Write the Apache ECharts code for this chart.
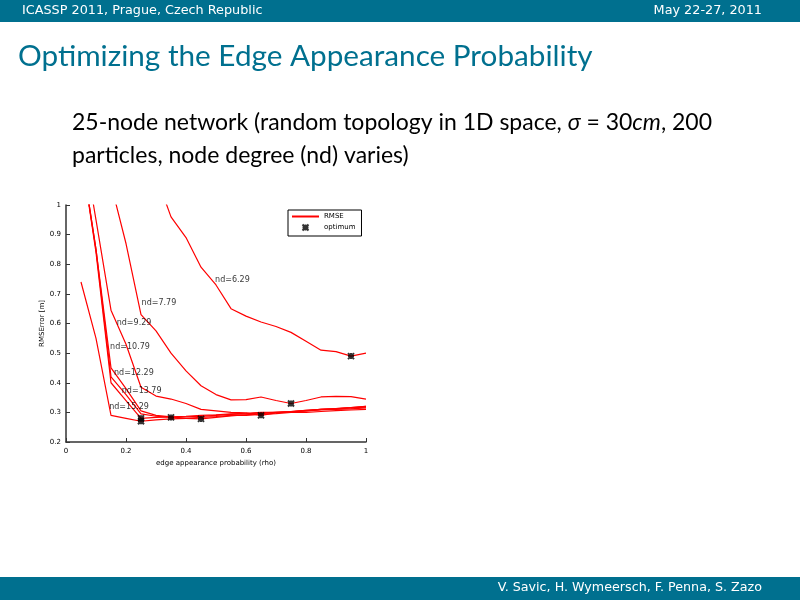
<!DOCTYPE html>
<html>
<head>
<meta charset="utf-8">
<title>Optimizing the Edge Appearance Probability</title>
<script src="https://cdn.jsdelivr.net/npm/echarts@6/dist/echarts.min.js"></script>
<style>html,body{margin:0;padding:0;background:#fff;}</style>
</head>
<body>
<div id="main" style="width:800px;height:600px;"></div>
<script type="text/javascript">
// edge appearance probability (x) shared by all curves
var rho = [0.05, 0.1, 0.15, 0.2, 0.25, 0.3, 0.35, 0.4, 0.45, 0.5,
           0.55, 0.6, 0.65, 0.7, 0.75, 0.8, 0.85, 0.9, 0.95, 1.0];

// RMSE per node degree (null = not read / above plot)
var nd629  = [null, null, null, null, null, 1.10, 0.96, 0.89, 0.79, 0.73,
              0.65, 0.625, 0.605, 0.59, 0.57, 0.54, 0.51, 0.505, 0.49, 0.50];
var nd779  = [null, null, 1.07, 0.87, 0.63, 0.575, 0.50, 0.44, 0.39, 0.36,
              0.342, 0.343, 0.352, 0.34, 0.33, 0.34, 0.352, 0.354, 0.353, 0.345];
var nd929  = [1.25, 0.95, 0.645, 0.53, 0.385, 0.355, 0.345, 0.33, 0.31, 0.305,
              0.30, 0.298, 0.29, 0.298, 0.303, 0.307, 0.31, 0.313, 0.316, 0.32];
var nd1079 = [1.18, 0.85, 0.45, 0.38, 0.305, 0.29, 0.285, 0.28, 0.278, 0.283,
              0.288, 0.292, 0.296, 0.30, 0.303, 0.307, 0.31, 0.313, 0.316, 0.32];
var nd1229 = [1.18, 0.85, 0.42, 0.36, 0.295, 0.287, 0.283, 0.285, 0.287, 0.29,
              0.293, 0.295, 0.298, 0.30, 0.302, 0.305, 0.31, 0.312, 0.315, 0.318];
var nd1379 = [1.18, 0.84, 0.40, 0.34, 0.28, 0.283, 0.285, 0.287, 0.29, 0.292,
              0.295, 0.297, 0.30, 0.30, 0.302, 0.305, 0.308, 0.31, 0.312, 0.315];
var nd1529 = [0.74, 0.55, 0.29, 0.28, 0.27, 0.275, 0.278, 0.28, 0.283, 0.286,
              0.29, 0.29, 0.293, 0.296, 0.30, 0.30, 0.303, 0.306, 0.308, 0.31];

var ndNames = ['nd=6.29', 'nd=7.79', 'nd=9.29', 'nd=10.79', 'nd=12.29', 'nd=13.79', 'nd=15.29'];
// where the text() annotations sit (data coords, left edge)
var ndLabelPos = [[0.497, 0.747], [0.252, 0.669], [0.169, 0.601], [0.147, 0.522],
                  [0.160, 0.433], [0.186, 0.371], [0.144, 0.320]];

var curves = [nd629, nd779, nd929, nd1079, nd1229, nd1379, nd1529];

var myChart = echarts.init(document.getElementById('main'));

var font = 'DejaVu Sans';
var teal = '#00708f';

var lineSeries = curves.map(function (ys) {
	return {
		name: 'RMSE',
		type: 'line',
		symbol: 'none',
		clip: true,
		data: rho.map(function (x, i) { return [x, ys[i]]; }),
		lineStyle: { color: '#ff0000', width: 1.2 },
		itemStyle: { color: '#ff0000' },
		z: 2
	};
});

// optimum = minimum of each curve
var optimum = curves.map(function (ys) {
	var best = -1;
	for (var i = 0; i < ys.length; i++) {
		if (ys[i] === null) continue;
		if (best < 0 || ys[i] < ys[best]) best = i;
	}
	return [rho[best], ys[best]];
});

var option = {
	animation: false,
	backgroundColor: '#fff',
	grid: { left: 66, top: 205, width: 300, height: 237 },
	xAxis: {
		type: 'value', min: 0, max: 1, interval: 0.2,
		splitLine: { show: false },
		axisLine: { lineStyle: { color: '#333', width: 1.5 } },
		axisTick: { inside: true, length: 4, lineStyle: { color: '#333' } },
		axisLabel: { color: '#000', fontSize: 7, fontFamily: font, margin: 6,
			formatter: function (v) { return String(+v.toFixed(1)); } },
		name: 'edge appearance probability (rho)',
		nameLocation: 'middle', nameGap: 18,
		nameTextStyle: { color: '#000', fontSize: 7, fontFamily: font }
	},
	yAxis: {
		type: 'value', min: 0.2, max: 1, interval: 0.1,
		splitLine: { show: false },
		axisLine: { show: true, lineStyle: { color: '#333', width: 1.5 } },
		axisTick: { show: true, inside: true, length: 4, lineStyle: { color: '#333' } },
		axisLabel: { color: '#000', fontSize: 7, fontFamily: font, margin: 5,
			formatter: function (v) { return String(+v.toFixed(1)); } },
		name: 'RMSError [m]',
		nameLocation: 'middle', nameGap: 20, nameRotate: 90,
		nameTextStyle: { color: '#000', fontSize: 7, fontFamily: font }
	},
	legend: {
		data: [{ name: 'RMSE', itemStyle: { opacity: 0 } }, { name: 'optimum' }],
		orient: 'vertical',
		left: 288, top: 210,
		itemWidth: 27, itemHeight: 6, itemGap: 2,
		padding: [3, 6, 3, 3],
		backgroundColor: '#fff',
		borderColor: '#000', borderWidth: 1,
		selectedMode: false,
		textStyle: { color: '#000', fontSize: 7, fontFamily: font }
	},
	graphic: [
		{ type: 'rect', shape: { x: 0, y: 0, width: 800, height: 22 }, style: { fill: teal } },
		{ type: 'rect', shape: { x: 0, y: 577, width: 800, height: 23 }, style: { fill: teal } },
		{ type: 'text', left: 22, top: 4,
			style: { text: 'ICASSP 2011, Prague, Czech Republic', fill: '#fff', font: '12.8px ' + font } },
		{ type: 'text', right: 38, top: 4,
			style: { text: 'May 22-27, 2011', fill: '#fff', font: '12.8px ' + font } },
		{ type: 'text', right: 38, top: 581,
			style: { text: 'V. Savic, H. Wymeersch, F. Penna, S. Zazo', fill: '#fff', font: '12.7px ' + font } },
		{ type: 'text', left: 18, top: 41,
			style: { text: 'Optimizing the Edge Appearance Probability', fill: teal, font: '29.7px Lato' } },
		{ type: 'text', left: 72, top: 106,
			style: {
				text: '25-node network (random topology in 1D space, {i|σ} = 30{i|cm}, 200\nparticles, node degree (nd) varies)',
				fill: '#000', font: '23px Lato', lineHeight: 33,
				rich: { i: { fontStyle: 'italic', fontSize: 23, fontFamily: 'Lato', fill: '#000' } }
			} }
	],
	series: lineSeries.concat([
		{
			name: 'optimum',
			type: 'scatter',
			symbol: 'path://M0,0L10,10M10,0L0,10M5,0L5,10M0,5L10,5',
			symbolSize: 6,
			itemStyle: { color: 'none', borderColor: '#000', borderWidth: 2 },
			data: optimum,
			z: 3
		},
		{
			name: 'ndLabels',
			type: 'scatter',
			symbolSize: 0,
			silent: true,
			data: ndLabelPos.map(function (p, i) { return { name: ndNames[i], value: p }; }),
			label: {
				show: true, position: 'right', distance: 0,
				formatter: '{b}', color: '#000', fontSize: 8, fontFamily: font
			},
			z: 4
		}
	])
};

myChart.setOption(option);
</script>
</body>
</html>
